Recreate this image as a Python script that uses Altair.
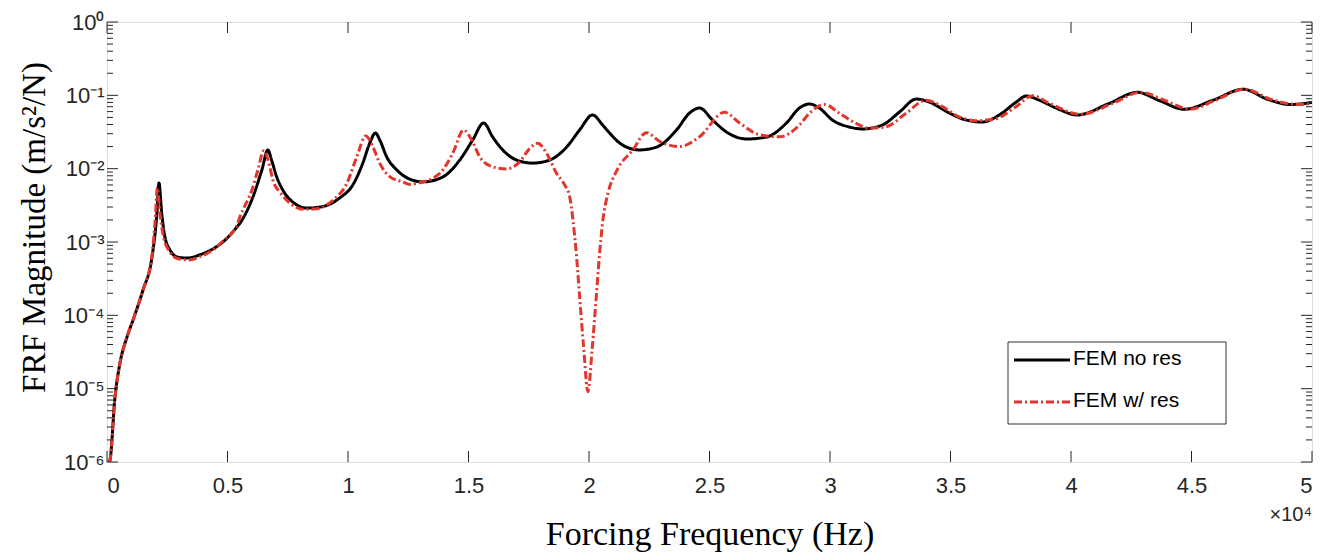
import altair as alt
import pandas as pd

# ---- data ----
series_names = ["FEM no res", "FEM w/ res"]

freq_no_res = [100, 124, 332, 539, 829, 1078, 1493, 1866, 2073, 2156, 2268, 2405, 2612, 2944,
               3358, 3856, 4561, 4809, 5390, 5514, 6053, 6426, 6675, 6828, 7036, 7297, 7712,
               8292, 8956, 9661, 10199, 10614, 10904, 11140, 11319, 11609, 12023, 12562, 13101,
               13931, 14635, 15174, 15630, 16004, 16418, 16998, 17662, 18367, 19072, 19611,
               20150, 20565, 20854, 21393, 22098, 22803, 23632, 24171, 24586, 25125, 25705,
               26534, 27364, 28193, 28732, 29146, 29560, 30100, 30805, 31344, 32173, 32878,
               33583, 34122, 34951, 35656, 36319, 37024, 37729, 38144, 38682, 39387, 40260,
               41600, 42750, 43660, 44700, 45900, 47140, 48170, 49090, 50000]
mag_no_res = [1.0e-6, 1.06e-6, 7.7e-6, 2.24e-5, 5.06e-5, 8.6e-5, 2.21e-4, 6.2e-4, 2.5e-3, 6.4e-3,
              2.5e-3, 1.17e-3, 7.8e-4, 6.2e-4, 6.05e-4, 6.7e-4, 8.7e-4, 1.0e-3, 1.6e-3, 1.8e-3,
              4.1e-3, 9.6e-3, 1.8e-2, 1.31e-2, 7.8e-3, 5.1e-3, 3.5e-3, 2.9e-3, 3.05e-3, 4.0e-3,
              6.0e-3, 1.19e-2, 2.24e-2, 3.06e-2, 2.46e-2, 1.44e-2, 9.6e-3, 7.2e-3, 6.6e-3, 7.7e-3,
              1.31e-2, 2.46e-2, 4.2e-2, 2.7e-2, 1.8e-2, 1.31e-2, 1.19e-2, 1.31e-2, 1.97e-2, 3.37e-2,
              5.4e-2, 3.94e-2, 3.06e-2, 2.1e-2, 1.8e-2, 1.97e-2, 3.37e-2, 5.74e-2, 6.72e-2, 4.61e-2,
              3.16e-2, 2.54e-2, 2.7e-2, 4.2e-2, 6.72e-2, 7.62e-2, 6.7e-2, 4.6e-2, 3.7e-2, 3.48e-2,
              3.94e-2, 5.9e-2, 8.9e-2, 8.1e-2, 5.74e-2, 4.6e-2, 4.33e-2, 5.4e-2, 8.1e-2, 9.8e-2,
              8.6e-2, 6.7e-2, 5.4e-2, 7.8e-2, 0.110, 8.5e-2, 6.46e-2, 8.6e-2, 0.121, 8.8e-2,
              7.5e-2, 8.0e-2]

freq_res = [100, 124, 332, 539, 829, 1078, 1493, 1866, 2000, 2090, 2200, 2350, 2612, 2944,
            3400, 3856, 4561, 4809, 5390, 5514, 6053, 6260, 6509, 6758, 6882, 7173, 7587, 8126,
            8707, 9370, 9950, 10365, 10738, 11028, 11319, 11733, 12272, 12562, 12852, 13806,
            14345, 14801, 15133, 15465, 16004, 16584, 17123, 17538, 17870, 18243, 18657, 18989,
            19196, 19334, 19473, 19611, 19777, 19955, 20137, 20302, 20440, 20578, 20785, 21131,
            21821, 22376, 22927, 23756, 24586, 25622, 26244, 27073, 27903, 28732, 29146, 29770,
            30390, 31080, 31634, 32326, 33155, 33985, 34536, 35366, 36057, 36886, 37716, 38407,
            39096, 40415, 41700, 42900, 43900, 44940, 46000, 47200, 48300, 49400, 50000]
mag_res = [1.0e-6, 1.06e-6, 7.7e-6, 2.24e-5, 5.06e-5, 8.6e-5, 2.21e-4, 6.5e-4, 2.0e-3, 5.5e-3,
           2.4e-3, 1.15e-3, 7.3e-4, 5.9e-4, 5.7e-4, 6.3e-4, 8.6e-4, 1.03e-3, 1.7e-3, 2.2e-3,
           5.6e-3, 9.6e-3, 1.76e-2, 1.05e-2, 7.0e-3, 4.8e-3, 3.4e-3, 2.8e-3, 2.85e-3, 3.7e-3,
           6.3e-3, 1.45e-2, 2.8e-2, 2.0e-2, 1.18e-2, 7.8e-3, 6.6e-3, 6.1e-3, 6.3e-3, 8.6e-3,
           1.62e-2, 3.37e-2, 2.46e-2, 1.45e-2, 1.06e-2, 9.9e-3, 1.24e-2, 1.88e-2, 2.22e-2, 1.62e-2,
           8.6e-3, 6.0e-3, 4.2e-3, 2.0e-3, 7.0e-4, 1.8e-4, 3.7e-5, 9.1e-6, 3.7e-5, 1.8e-4,
           7.0e-4, 2.0e-3, 4.6e-3, 9.1e-3, 1.8e-2, 3.1e-2, 2.36e-2, 2.0e-2, 2.72e-2, 5.86e-2,
           4.2e-2, 2.9e-2, 2.72e-2, 3.94e-2, 5.7e-2, 7.5e-2, 5.7e-2, 4.14e-2, 3.55e-2, 3.73e-2,
           5.7e-2, 8.6e-2, 7.4e-2, 5.1e-2, 4.5e-2, 4.8e-2, 7.0e-2, 9.9e-2, 7.8e-2, 5.5e-2,
           7.7e-2, 0.110, 8.5e-2, 6.46e-2, 8.6e-2, 0.121, 8.8e-2, 7.5e-2, 7.8e-2]

x_tick_values = [0, 5000, 10000, 15000, 20000, 25000, 30000, 35000, 40000, 45000, 50000]
y_major_ticks = [1e-6, 1e-5, 1e-4, 1e-3, 1e-2, 1e-1, 1.0]
y_minor_ticks = [m * d for d in [1e-6, 1e-5, 1e-4, 1e-3, 1e-2, 1e-1] for m in range(2, 10)]

# ---- build tables ----
df = pd.concat([
    pd.DataFrame({"f": freq_no_res, "m": mag_no_res, "series": series_names[0]}),
    pd.DataFrame({"f": freq_res, "m": mag_res, "series": series_names[1]}),
], ignore_index=True)

W, H = 1205, 440
INK = "#262626"
RED = "#E2352B"

xscale = alt.Scale(domain=[0, 50000], nice=False, zero=False)
yscale = alt.Scale(type="log", domain=[1e-6, 1], nice=False)
color_scale = alt.Scale(domain=series_names, range=["#000000", RED])
dash_scale = alt.Scale(domain=series_names, range=[[1, 0], [8, 3, 2, 3]])

lines = alt.Chart(df).mark_line(strokeWidth=3, clip=True, interpolate="monotone").encode(
    x=alt.X("f:Q", scale=xscale, axis=alt.Axis(
        values=x_tick_values, labelExpr="'' + (datum.value / 10000)",
        ticks=False, tickSize=0, domain=False, grid=False,
        labelFont="Liberation Sans", labelFontSize=22, labelColor=INK, labelPadding=13,
        title="Forcing Frequency (Hz)", titleFont="Liberation Serif", titleFontSize=34,
        titleFontWeight="normal", titleColor="#000000", titlePadding=21)),
    y=alt.Y("m:Q", scale=yscale, axis=alt.Axis(
        values=y_major_ticks,
        labelExpr="'10' + ['⁰','⁻¹','⁻²','⁻³','⁻⁴','⁻⁵','⁻⁶'][round(-log(datum.value)/LN10)]",
        ticks=False, tickSize=0, domain=False, grid=False,
        labelFont="Liberation Sans", labelFontSize=22, labelColor=INK, labelPadding=3,
        title="FRF Magnitude (m/s²/N)", titleFont="Liberation Serif", titleFontSize=33,
        titleFontWeight="normal", titleColor="#000000", titlePadding=12, titleY=205)),
    color=alt.Color("series:N", scale=color_scale, legend=None),
    strokeDash=alt.StrokeDash("series:N", scale=dash_scale, legend=None),
)

xt = pd.DataFrame({"f": x_tick_values})
ymaj = pd.DataFrame({"m": y_major_ticks})
ymin = pd.DataFrame({"m": y_minor_ticks})

def xticks(y0, y1):
    return alt.Chart(xt).mark_rule(color=INK, strokeWidth=1).encode(
        x=alt.X("f:Q", scale=xscale), y=alt.value(y0), y2=alt.value(y1))

def yticks(data, x0, x1):
    return alt.Chart(data).mark_rule(color=INK, strokeWidth=1).encode(
        y=alt.Y("m:Q", scale=yscale), x=alt.value(x0), x2=alt.value(x1))

tick_layers = [
    xticks(H, H - 11), xticks(0, 11),
    yticks(ymaj, 0, 11), yticks(ymin, 0, 6),
    yticks(ymaj, W, W - 11), yticks(ymin, W, W - 6),
]

# ---- legend box (inside, lower right) ----
LX0, LX1, LY0, LY1 = 901, 1119, 320, 402
legend_box = alt.Chart(pd.DataFrame({"k": [0]})).mark_rect(
    fill="white", stroke="#333333", strokeWidth=1
).encode(x=alt.value(LX0), x2=alt.value(LX1), y=alt.value(LY0), y2=alt.value(LY1))

legend_layers = [legend_box]
for i, name in enumerate(series_names):
    ly = 338 + 42 * i
    d = pd.DataFrame({"series": [name]})
    legend_layers.append(
        alt.Chart(d).mark_rule(strokeWidth=3).encode(
            x=alt.value(907), x2=alt.value(963), y=alt.value(ly),
            color=alt.Color("series:N", scale=color_scale, legend=None),
            strokeDash=alt.StrokeDash("series:N", scale=dash_scale, legend=None)))
    legend_layers.append(
        alt.Chart(d).mark_text(align="left", baseline="middle", font="Liberation Sans",
                               fontSize=21, color="#000000").encode(
            text="series:N", x=alt.value(966), y=alt.value(ly - 1)))

exp_text = alt.Chart(pd.DataFrame({"t": ["×10⁴"]})).mark_text(
    align="right", baseline="middle", font="Liberation Sans", fontSize=20, color=INK
).encode(text="t:N", x=alt.value(W), y=alt.value(H + 53))

chart = alt.layer(lines, *tick_layers, *legend_layers, exp_text).properties(
    width=W, height=H,
    padding={"left": 107, "top": 22, "right": 26, "bottom": 94},
    autosize=alt.AutoSizeParams(type="none"),
).configure_view(stroke=INK, strokeWidth=1).configure(background="white")

chart.save("out.html", embed_options={"renderer": "svg", "actions": False})
